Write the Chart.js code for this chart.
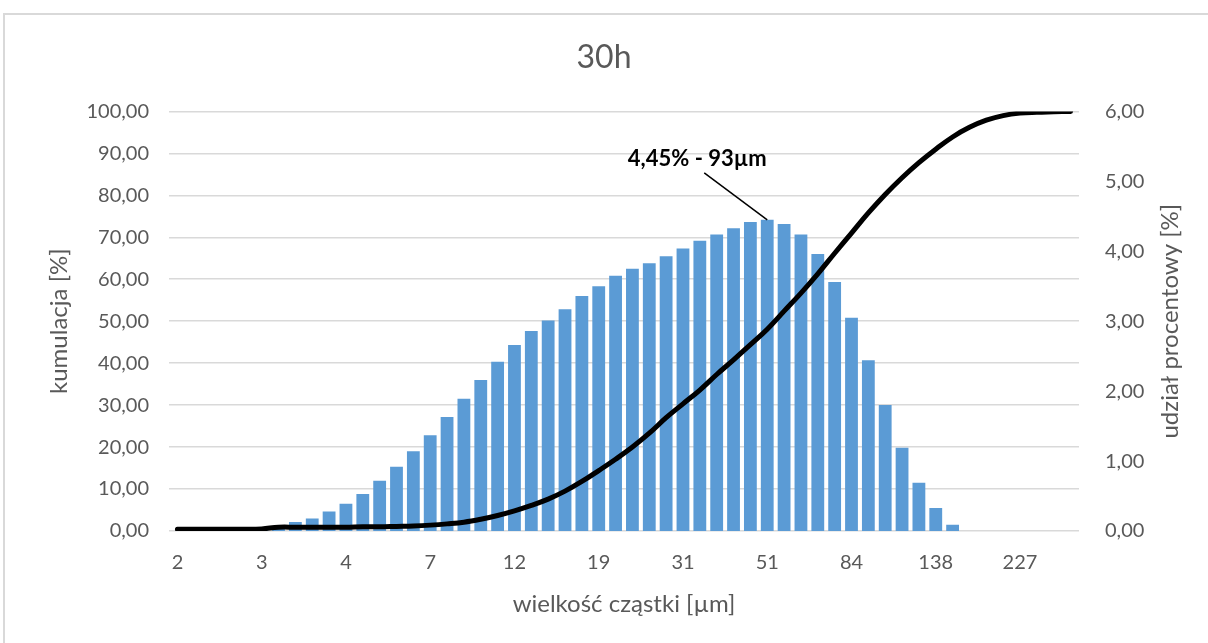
<!DOCTYPE html>
<html>
<head>
<meta charset="utf-8">
<script src="https://cdn.jsdelivr.net/npm/chart.js@4.4.1/dist/chart.umd.min.js"></script>
<style>
    html, body { margin: 0; padding: 0; background: #fff; }
    #frame {
        position: absolute; left: 3px; top: 13px; width: 1230px; height: 660px;
        border: 2px solid #d9d9d9; box-sizing: border-box;
    }
    #wrap { position: absolute; left: 0; top: 0; width: 1208px; height: 643px; }
</style>
</head>
<body>
<div id="frame"></div>
<div id="wrap"><canvas id="chart"></canvas></div>
<script>
// particle size classes [µm] (only every 5th is labelled on the axis)
const sizes = [
    1.6, 1.7, 1.9, 2.1, 2.3, 2.6, 2.8, 3.1, 3.5, 3.8,
    4.2, 4.7, 5.2, 5.7, 6.3, 7.0, 7.7, 8.5, 9.4, 10.4,
    11.6, 12.8, 14.1, 15.6, 17.2, 19.0, 21.0, 23.2, 25.6, 28.3,
    31.2, 34.5, 38.1, 42.1, 46.5, 51.3, 56.7, 62.6, 69.2, 76.4,
    84.4, 93.2, 103, 113.7, 125.6, 138.1, 152.5, 168.4, 186, 205.5,
    227, 250.7, 277, 305.9
];

// udział procentowy [%] - bars, right axis
const share = [
    0, 0, 0, 0, 0, 0.02, 0.05, 0.13, 0.18, 0.28,
    0.39, 0.53, 0.72, 0.92, 1.14, 1.37, 1.63, 1.89, 2.16, 2.42,
    2.66, 2.86, 3.01, 3.17, 3.36, 3.50, 3.65, 3.75, 3.83, 3.93,
    4.04, 4.15, 4.24, 4.33, 4.42, 4.45, 4.39, 4.24, 3.96, 3.56,
    3.05, 2.44, 1.80, 1.19, 0.69, 0.33, 0.09, 0, 0, 0,
    0, 0, 0, 0
];

// kumulacja [%] - line, left axis
const cumulative = [
    0.4, 0.4, 0.4, 0.4, 0.4, 0.5, 0.9, 0.9, 0.9, 0.9,
    0.9, 1.0, 1.0, 1.1, 1.2, 1.4, 1.7, 2.1, 2.8, 3.7,
    4.8, 6.1, 7.6, 9.5, 11.8, 14.4, 17.1, 20.0, 23.3, 27.0,
    30.3, 33.6, 37.3, 40.8, 44.4, 48.1, 52.4, 56.7, 61.3, 66.2,
    71.0, 75.8, 80.2, 84.2, 87.8, 91.0, 93.9, 96.2, 97.9, 99.0,
    99.6, 99.8, 99.9, 100
];

const peakLabel = '4,45% - 93µm';

const grey = '#595959';
const family = 'Lato, "Open Sans", sans-serif';
const font = (size, weight) => ({ family: family, size: size, weight: weight || 'normal' });
const comma = (v) => v.toFixed(2).replace('.', ',');

// callout pointing at the highest bar, and the right axis title (reads bottom to top)
const extrasPlugin = {
    id: 'extras',
    afterDatasetsDraw(chart) {
        const meta = chart.getDatasetMeta(0);
        const peak = share.indexOf(Math.max(...share));
        const bar = meta.data[peak];
        const ctx = chart.ctx;
        ctx.save();
        ctx.strokeStyle = '#000';
        ctx.lineWidth = 1.5;
        ctx.beginPath();
        ctx.moveTo(bar.x - 63, bar.y - 47);
        ctx.lineTo(bar.x, bar.y);
        ctx.stroke();
        ctx.fillStyle = '#000';
        ctx.font = 'bold 22px ' + family;
        ctx.textAlign = 'center';
        ctx.textBaseline = 'middle';
        ctx.fillText(peakLabel, bar.x - 70, bar.y - 61);

        const y2 = chart.scales.y2;
        ctx.translate(y2.right - 38, (y2.top + y2.bottom) / 2);
        ctx.rotate(-Math.PI / 2);
        ctx.fillStyle = grey;
        ctx.font = '24px ' + family;
        ctx.fillText('udział procentowy [%]', 0, 0);
        ctx.restore();
    }
};

new Chart(document.getElementById('chart'), {
    data: {
        labels: sizes,
        datasets: [
            {
                type: 'bar',
                label: 'udział procentowy [%]',
                data: share,
                yAxisID: 'y2',
                backgroundColor: '#5b9bd5',
                categoryPercentage: 1,
                barPercentage: 0.76,
                order: 2
            },
            {
                type: 'line',
                label: 'kumulacja [%]',
                data: cumulative,
                yAxisID: 'y',
                borderColor: '#000',
                borderWidth: 5,
                pointRadius: 0,
                tension: 0.4,
                borderCapStyle: 'round',
                order: 1
            }
        ]
    },
    options: {
        responsive: true,
        maintainAspectRatio: false,
        animation: false,
        layout: { padding: 0 },
        plugins: {
            legend: { display: false },
            tooltip: { enabled: false },
            title: {
                display: true,
                text: '30h',
                color: grey,
                font: font(32),
                padding: { top: 38, bottom: 35 }
            }
        },
        scales: {
            x: {
                grid: { display: false },
                border: { display: false },
                ticks: {
                    color: grey,
                    font: font(20),
                    autoSkip: false,
                    maxRotation: 0,
                    padding: 12,
                    callback: (v, i) => (i % 5 === 0 ? String(Math.round(sizes[i])) : '')
                },
                title: {
                    display: true,
                    text: 'wielkość cząstki [µm]',
                    color: grey,
                    font: font(24),
                    padding: { top: 0, bottom: 24 }
                },
                afterFit: (s) => { s.height = 112; }
            },
            y: {
                position: 'left',
                min: 0,
                max: 100,
                grid: { color: '#d9d9d9', lineWidth: 1.5, drawTicks: false },
                border: { display: false },
                ticks: {
                    stepSize: 10,
                    color: grey,
                    font: font(20),
                    padding: 20,
                    callback: (v) => comma(v)
                },
                title: {
                    display: true,
                    text: 'kumulacja [%]',
                    color: grey,
                    font: font(24),
                    padding: { top: 45, bottom: 0 }
                },
                afterFit: (s) => { s.width = 169; }
            },
            y2: {
                position: 'right',
                min: 0,
                max: 6,
                grid: { display: false, drawTicks: false },
                border: { display: false },
                ticks: {
                    stepSize: 1,
                    color: grey,
                    font: font(20),
                    padding: 26,
                    callback: (v) => comma(v)
                },
                afterFit: (s) => { s.width = 129; }
            }
        }
    },
    plugins: [extrasPlugin]
});
</script>
</body>
</html>
